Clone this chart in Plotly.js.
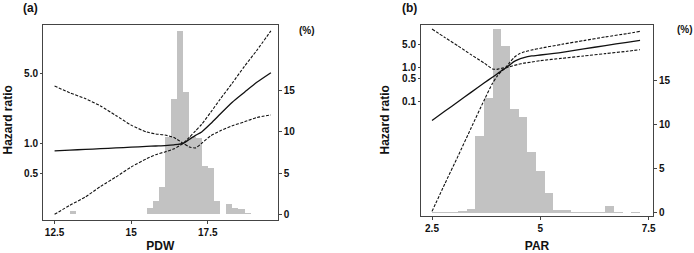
<!DOCTYPE html>
<html>
<head>
<meta charset="utf-8">
<script src="https://cdn.plot.ly/plotly-3.0.1.min.js"></script>
<style>html,body{margin:0;padding:0;background:#fff;}#chart{width:694px;height:253px;}</style>
</head>
<body>
<div id="chart"></div>
<script>
// ---- Panel (a): PDW ----
const pdwBinCenters = [13.1, 13.5, 15.2, 15.4, 15.6, 15.8, 16.0, 16.2, 16.4, 16.6, 16.8, 17.0, 17.2, 17.4, 17.6, 17.8, 18.0, 18.2, 18.4, 18.6, 18.8, 19.5];
const pdwPercent    = [0.35, 0.05, 0.05, 0.05, 0.8, 1.6, 3.35, 9.35, 13.95, 22.2, 14.9, 9.35, 9.3, 5.86, 5.66, 1.6, 0, 1.2, 0.8, 0.6, 0.1, 0.05];
const pdwX      = [12.5, 13.0, 13.5, 14.0, 14.5, 15.0, 15.5, 15.8, 16.1, 16.4, 16.7, 16.9, 17.1, 17.3, 17.6, 17.9, 18.3, 18.7, 19.1, 19.56];
const pdwHR     = [0.84, 0.855, 0.869, 0.883, 0.899, 0.914, 0.93, 0.94, 0.949, 0.966, 1.0, 1.096, 1.2, 1.3, 1.58, 1.95, 2.57, 3.24, 4.07, 5.08];
const pdwCiA    = [3.74, 3.2, 2.8, 2.36, 1.9, 1.52, 1.3, 1.24, 1.21, 1.14, 1.0, 0.92, 0.9, 1.0, 1.19, 1.33, 1.5, 1.64, 1.81, 1.92];
const pdwCiB    = [0.195, 0.24, 0.29, 0.37, 0.46, 0.58, 0.7, 0.77, 0.82, 0.88, 1.0, 1.15, 1.33, 1.55, 2.05, 2.75, 4.0, 5.9, 8.5, 13.3];

// ---- Panel (b): PAR ----
const parBinCenters = [2.6, 2.8, 3.0, 3.2, 3.4, 3.6, 3.8, 4.0, 4.2, 4.4, 4.6, 4.8, 5.0, 5.2, 5.4, 5.6, 5.8, 6.0, 6.2, 6.4, 6.6, 6.8, 7.2];
const parPercent    = [0.05, 0.05, 0.05, 0.26, 0.45, 8.74, 13.0, 20.8, 18.9, 11.76, 10.8, 6.86, 4.7, 2.26, 0.3, 0.3, 0.15, 0.1, 0.05, 0.05, 0.83, 0.1, 0.05];
const parX      = [2.5, 2.8, 3.1, 3.4, 3.7, 3.9, 4.0, 4.1, 4.2, 4.3, 4.4, 4.5, 4.6, 4.8, 5.0, 5.5, 6.0, 6.5, 7.0, 7.3];
const parHR     = [0.0269, 0.0513, 0.0977, 0.186, 0.355, 0.537, 0.661, 0.832, 1.0, 1.26, 1.58, 1.82, 2.0, 2.29, 2.45, 2.95, 3.72, 4.68, 5.89, 6.71];
const parUpper  = [14.7, 8.13, 4.57, 2.51, 1.41, 0.933, 0.912, 0.977, 1.05, 1.5, 2.1, 2.6, 2.95, 3.45, 3.9, 5.13, 6.61, 8.51, 10.7, 12.5];
const parLower  = [5.1e-5, 3.5e-4, 2.3e-3, 0.0158, 0.107, 0.355, 0.562, 0.794, 1.0, 1.10, 1.20, 1.29, 1.38, 1.51, 1.66, 1.95, 2.29, 2.69, 3.16, 3.53];

// ---- Tick labels ----
const pdwTicks = [12.5, 15, 17.5], pdwTickText = ['12.5', '15', '17.5'];
const parTicks = [2.5, 5, 7.5], parTickText = ['2.5', '5', '7.5'];
const pdwHrTicks = [0.5, 1, 5], pdwHrText = ['0.5', '1.0', '5.0'];
const parHrTicks = [0.1, 0.5, 1, 5], parHrText = ['0.1', '0.5', '1.0', '5.0'];
const pctTicks = [0, 5, 10, 15], pctText = ['0', '5', '10', '15'];

const FONT = '"Liberation Sans", Arial, Helvetica, sans-serif';
const tickFont = {family: FONT, size: 10, color: '#111', weight: 'bold'};
const frame = '#444';
const barColor = '#c2c2c2';

const solid = {color: '#111', width: 1.3, shape: 'spline', smoothing: 0.6};
const dashed = {color: '#111', width: 1.1, dash: '3px,1.5px', shape: 'spline', smoothing: 0.6};

const traces = [
  {type: 'bar', x: pdwBinCenters, y: pdwPercent, width: 0.2, marker: {color: barColor, line: {width: 0}}, xaxis: 'x', yaxis: 'y', hoverinfo: 'skip'},
  {type: 'scatter', mode: 'lines', x: pdwX, y: pdwCiA, line: dashed, xaxis: 'x', yaxis: 'y2'},
  {type: 'scatter', mode: 'lines', x: pdwX, y: pdwCiB, line: dashed, xaxis: 'x', yaxis: 'y2'},
  {type: 'scatter', mode: 'lines', x: pdwX, y: pdwHR, line: solid, xaxis: 'x', yaxis: 'y2'},

  {type: 'bar', x: parBinCenters, y: parPercent, width: 0.2, marker: {color: barColor, line: {width: 0}}, xaxis: 'x2', yaxis: 'y3', hoverinfo: 'skip'},
  {type: 'scatter', mode: 'lines', x: parX, y: parUpper, line: dashed, xaxis: 'x2', yaxis: 'y4'},
  {type: 'scatter', mode: 'lines', x: parX, y: parLower, line: dashed, xaxis: 'x2', yaxis: 'y4'},
  {type: 'scatter', mode: 'lines', x: parX, y: parHR, line: solid, xaxis: 'x2', yaxis: 'y4'}
];

const xCommon = {showline: true, mirror: true, linecolor: frame, linewidth: 1, ticks: 'outside', ticklen: 3, tickcolor: frame,
  showgrid: false, zeroline: false, tickfont: tickFont, fixedrange: true};
const pctCommon = {showline: true, mirror: true, linecolor: frame, linewidth: 1, side: 'right', ticks: 'outside', ticklen: 3, tickcolor: frame,
  showgrid: false, zeroline: false, tickfont: tickFont, tickvals: pctTicks, ticktext: pctText};
const hrCommon = {type: 'log', side: 'left', showline: false, ticks: 'outside', ticklen: 2, tickcolor: frame,
  showgrid: false, zeroline: false, tickfont: tickFont};

const layout = {
  width: 694, height: 253,
  margin: {l: 0, r: 0, t: 0, b: 0},
  paper_bgcolor: '#fff', plot_bgcolor: 'rgba(0,0,0,0)',
  showlegend: false, bargap: 0,
  font: {family: FONT, color: '#111'},
  xaxis: Object.assign({}, xCommon, {domain: [0.06196, 0.40014], range: [12.122, 19.782], anchor: 'y',
    tickvals: pdwTicks, ticktext: pdwTickText,
    title: {text: 'PDW', font: {family: FONT, size: 12, weight: 'bold', color: '#111'}, standoff: 9}}),
  yaxis: Object.assign({}, pctCommon, {domain: [0.13241, 0.90119], range: [-0.63, 22.97], anchor: 'x'}),
  yaxis2: Object.assign({}, hrCommon, {overlaying: 'y', anchor: 'x', range: [-0.762, 1.183], tickvals: pdwHrTicks, ticktext: pdwHrText}),

  xaxis2: Object.assign({}, xCommon, {domain: [0.60663, 0.94092], range: [2.246, 7.599], anchor: 'y3',
    tickvals: parTicks, ticktext: parTickText,
    title: {text: 'PAR', font: {family: FONT, size: 12, weight: 'bold', color: '#111'}, standoff: 9}}),
  yaxis3: Object.assign({}, pctCommon, {domain: [0.14822, 0.90316], range: [-0.3, 21.3], anchor: 'x2'}),
  yaxis4: Object.assign({}, hrCommon, {overlaying: 'y3', anchor: 'x2', range: [-4.416, 1.302], tickvals: parHrTicks, ticktext: parHrText}),

  shapes: [
    {type: 'line', xref: 'x domain', yref: 'y2', x0: 0, x1: 1, y0: 0, y1: 0, line: {color: '#666', width: 1}},
    {type: 'line', xref: 'x2 domain', yref: 'y4', x0: 0, x1: 1, y0: 0, y1: 0, line: {color: '#666', width: 1}}
  ],
  annotations: [
    {text: '(a)', xref: 'paper', yref: 'paper', x: 30 / 694, y: 1 - 7.5 / 253, showarrow: false, xanchor: 'center', yanchor: 'middle',
      font: {family: FONT, size: 12, weight: 'bold', color: '#111'}},
    {text: '(b)', xref: 'paper', yref: 'paper', x: 409.5 / 694, y: 1 - 7.5 / 253, showarrow: false, xanchor: 'center', yanchor: 'middle',
      font: {family: FONT, size: 12, weight: 'bold', color: '#111'}},
    {text: '(%)', xref: 'paper', yref: 'paper', x: 307 / 694, y: 1 - 31 / 253, showarrow: false, xanchor: 'center', yanchor: 'middle',
      font: {family: FONT, size: 10, weight: 'bold', color: '#111'}},
    {text: '(%)', xref: 'paper', yref: 'paper', x: 685 / 694, y: 1 - 29.5 / 253, showarrow: false, xanchor: 'center', yanchor: 'middle',
      font: {family: FONT, size: 10, weight: 'bold', color: '#111'}},
    {text: 'Hazard ratio', xref: 'paper', yref: 'paper', x: 7.5 / 694, y: 1 - 120 / 253, showarrow: false, textangle: -90, xanchor: 'center', yanchor: 'middle',
      font: {family: FONT, size: 12, weight: 'bold', color: '#111'}},
    {text: 'Hazard ratio', xref: 'paper', yref: 'paper', x: 384.5 / 694, y: 1 - 120 / 253, showarrow: false, textangle: -90, xanchor: 'center', yanchor: 'middle',
      font: {family: FONT, size: 12, weight: 'bold', color: '#111'}}
  ]
};

Plotly.newPlot('chart', traces, layout, {staticPlot: true, displayModeBar: false});
</script>
</body>
</html>
